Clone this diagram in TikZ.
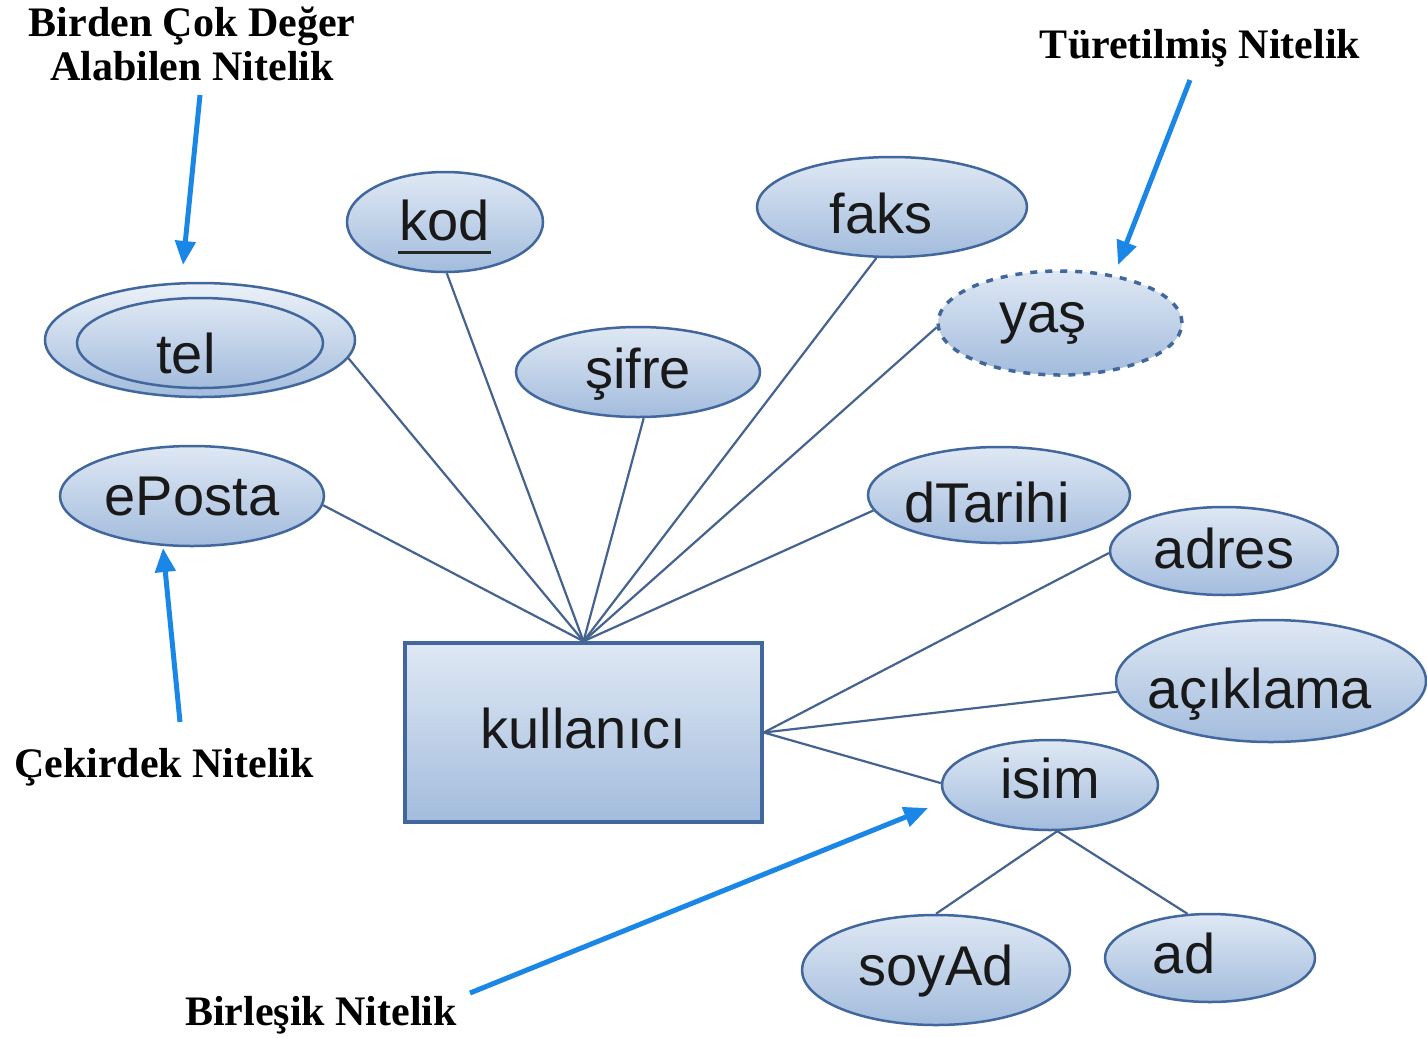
\documentclass[tikz,border=0pt]{standalone}
\usepackage{fontspec}
\setmainfont{Liberation Serif}
\newfontfamily\attrfont{Liberation Sans}
\usetikzlibrary{shapes.geometric,arrows.meta}
\definecolor{bord}{HTML}{41679C}
\definecolor{topc}{HTML}{DFE8F4}
\definecolor{botc}{HTML}{A3BCDD}
\definecolor{arr}{HTML}{1A87E6}
\definecolor{lnc}{HTML}{44638F}
% #1: horizontal pre-space (text moves by half of it), #2: drop, #3: text
\newcommand\txtmove[3]{\hspace*{#1pt}\raisebox{-#2pt}{#3}}
\begin{document}
\begin{tikzpicture}[x=1pt,y=-1pt,
  attr/.style={ellipse, draw=bord, line width=2.5pt, top color=topc, bottom color=botc,
    inner sep=0pt, text height=40pt, text depth=8pt,
    font=\attrfont\fontsize{56}{60}\selectfont, text=black!90},
  ent/.style={rectangle, draw=bord, line width=3.5pt, top color=topc, bottom color=botc,
    inner sep=0pt, text height=40pt, text depth=8pt,
    font=\attrfont\fontsize{56}{60}\selectfont, text=black!90},
  derived/.style={draw=bord, dash pattern=on 7pt off 8pt, line width=3.5pt},
  conn/.style={draw=lnc, line width=2.2pt},
  lab/.style={font=\bfseries\fontsize{42}{48}\selectfont, inner sep=0pt, anchor=base},
  note/.style={draw=arr, line width=5pt, -{Triangle[length=24pt,width=20pt]}}
]
\useasboundingbox (0,0) rectangle (1427,1037);

% attributes
\node[attr, top color=topc!60!white, minimum width=310pt, minimum height=114pt] (telout) at (200,340) {};
\node[attr, minimum width=246pt, minimum height=90pt] (tel) at (200,343) {\txtmove{-28}{14}{tel}};
\node[attr, minimum width=196pt, minimum height=100pt] (kod) at (445,222) {\txtmove{0}{2}{kod}};
\node[attr, minimum width=244pt, minimum height=90pt] (sifre) at (638,372) {şifre};
\node[attr, minimum width=270pt, minimum height=100pt] (faks) at (892,207) {\txtmove{-22}{10}{faks}};
\node[attr, derived, minimum width=244pt, minimum height=104pt] (yas) at (1060,323) {\txtmove{-34}{-7}{yaş}};
\node[attr, minimum width=264pt, minimum height=100pt] (eposta) at (192,496) {\txtmove{0}{3}{ePosta}};
\node[attr, minimum width=262pt, minimum height=96pt] (dtarihi) at (999,495) {\txtmove{-24}{11}{dTarihi}};
\node[attr, minimum width=228pt, minimum height=88pt] (adres) at (1224,551) {\txtmove{0}{1}{adres}};
\node[attr, minimum width=310pt, minimum height=122pt] (aciklama) at (1271,681) {\txtmove{-22}{11}{açıklama}};
\node[attr, minimum width=216pt, minimum height=90pt] (isim) at (1050,785) {\txtmove{0}{-3}{isim}};
\node[attr, minimum width=268pt, minimum height=110pt] (soyad) at (936,970) {\txtmove{0}{-1}{soyAd}};
\node[attr, minimum width=210pt, minimum height=88pt] (ad) at (1210,958) {\txtmove{-52}{-1}{ad}};

% entity
\node[ent, minimum width=357pt, minimum height=179pt] (k) at (583.5,732.5) {kullanıcı};

% key underline
\draw[line width=3pt, black!85] ([xshift=-47pt,yshift=-30pt]kod.center) -- ([xshift=46pt,yshift=-30pt]kod.center);

% connectors
\draw[conn] (k.north) -- (telout.-7);
\draw[conn] (k.north) -- (kod.-88);
\draw[conn] (k.north) -- (sifre.-83);
\draw[conn] (k.north) -- (faks.-107);
\draw[conn] (k.north) -- (yas.182);
\draw[conn] (k.north) -- (eposta.-4);
\draw[conn] (k.north) -- (dtarihi.187);
\draw[conn] (k.east) -- (adres.181);
\draw[conn] (k.east) -- (aciklama.184);
\draw[conn] (k.east) -- (isim.179);
\draw[conn] (isim.-81) -- (soyad.north);
\draw[conn] (isim.-81) -- (ad.117);

% labels
\node[lab] (l1a) at (192,36) {Birden Çok Değer};
\node[lab] (l1b) at (192,80) {Alabilen Nitelik};
\node[lab] (l2) at (1200,58) {Türetilmiş Nitelik};
\node[lab] (l3) at (164,777) {Çekirdek Nitelik};
\node[lab] (l4) at (321,1025) {Birleşik Nitelik};

% annotation arrows
\coordinate (a1s) at (200,95);  \coordinate (a1e) at (183,265);
\coordinate (a2s) at (1190,80); \coordinate (a2e) at (1118,265);
\coordinate (a3s) at (180,722); \coordinate (a3e) at (163,548);
\coordinate (a4s) at (470,993); \coordinate (a4e) at (928,808);
\draw[note] (a1s) -- (a1e);
\draw[note] (a2s) -- (a2e);
\draw[note] (a3s) -- (a3e);
\draw[note] (a4s) -- (a4e);
\end{tikzpicture}
\end{document}
